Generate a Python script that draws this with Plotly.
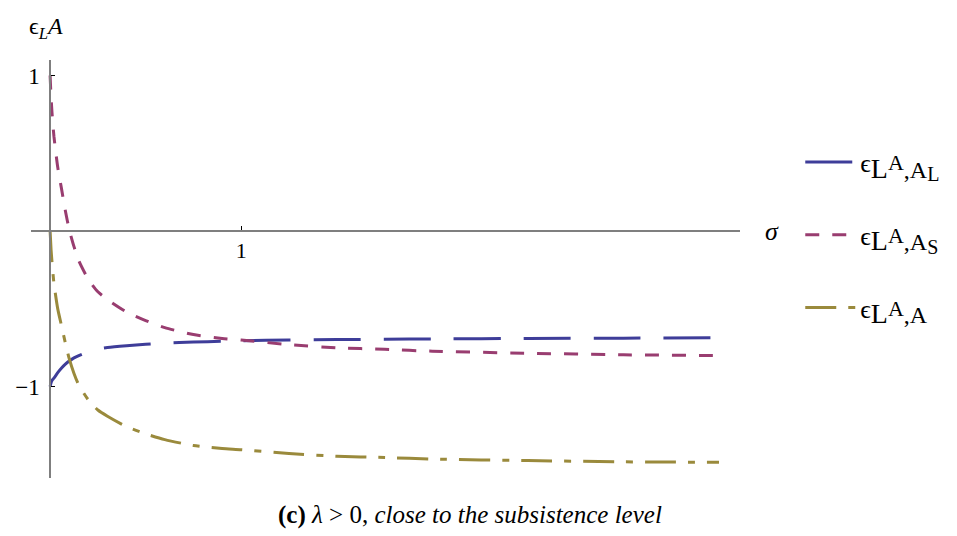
import plotly.graph_objects as go

# ---- data ----
sigma = [0, 0.005, 0.01, 0.02, 0.04, 0.06, 0.08, 0.1, 0.125, 0.15, 0.2, 0.25, 0.3,
         0.4, 0.5, 0.6, 0.75, 0.9, 1.0, 1.25, 1.5, 1.75, 2.0, 2.5, 3.0, 3.5]
eps_AL = [-1.0, -0.975, -0.96, -0.945, -0.91, -0.88, -0.855, -0.835, -0.815, -0.80,
          -0.775, -0.757, -0.748, -0.737, -0.728, -0.72, -0.713, -0.708, -0.705,
          -0.70, -0.697, -0.695, -0.693, -0.69, -0.688, -0.686]
eps_AS = [1.0, 0.86, 0.76, 0.61, 0.41, 0.27, 0.13, 0.01, -0.10, -0.19, -0.31, -0.39,
          -0.44, -0.52, -0.575, -0.62, -0.665, -0.69, -0.70, -0.73, -0.75, -0.76,
          -0.772, -0.785, -0.795, -0.80]
eps_A = [0.0, -0.12, -0.20, -0.335, -0.50, -0.61, -0.72, -0.82, -0.915, -0.99, -1.085,
         -1.15, -1.19, -1.257, -1.303, -1.34, -1.378, -1.398, -1.405, -1.43, -1.447,
         -1.455, -1.465, -1.475, -1.483, -1.486]


def eps_label(last):
    big = "<span style='font-size:28px'>L</span>"
    sup = "<sup><span style='font-size:22px'>A</span></sup>"
    tail = "<span style='font-size:24px'>,A</span>"
    if last:
        tail += "<sub><span style='font-size:20px'>" + last + "</span></sub>"
    return "ϵ<sub>" + big + sup + tail + "</sub>"


names = [eps_label("L"), eps_label("S"), eps_label("")]
x_ticks = [1]
y_ticks = [-1, 1]

X_RANGE = [-0.1, 3.61]
Y_RANGE = [-1.587, 1.10]

SERIF = "Liberation Serif"
colors = ["#3e3d99", "#993d70", "#9a8a3c"]
dashes = ["47px,23px", "14px,13px", "31px,12px,7px,12px"]

fig = go.Figure()
for ys, nm, c, d, g in zip([eps_AL, eps_AS, eps_A], names, colors, dashes, ["a", "b", "c"]):
    fig.add_trace(go.Scatter(
        x=sigma, y=ys, mode="lines", name=nm, legendgroup=g,
        line=dict(color=c, width=3, dash=d, shape="spline", smoothing=0.6),
    ))

xpos = (0 - Y_RANGE[0]) / (Y_RANGE[1] - Y_RANGE[0])
ypos = (0 - X_RANGE[0]) / (X_RANGE[1] - X_RANGE[0])

fig.update_layout(
    width=957, height=536,
    margin=dict(l=23, r=225, t=52, b=66, autoexpand=False),
    paper_bgcolor="white", plot_bgcolor="white",
    font=dict(family=SERIF, size=22, color="black"),
    xaxis=dict(range=X_RANGE, anchor="free", position=xpos, showgrid=False,
               zeroline=False, showline=True, linecolor="#7f7f7f", linewidth=1.5,
               tickvals=x_ticks, ticktext=[str(v) for v in x_ticks],
               ticks="inside", ticklen=4, tickcolor="black", tickwidth=1,
               tickfont=dict(family=SERIF, size=22)),
    yaxis=dict(range=Y_RANGE, anchor="free", position=ypos, showgrid=False,
               zeroline=False, showline=True, linecolor="#7f7f7f", linewidth=1.5,
               tickvals=y_ticks, ticktext=["−1", "1"],
               ticks="inside", ticklen=4, tickcolor="black", tickwidth=1,
               ticklabelstandoff=5,
               tickfont=dict(family=SERIF, size=23)),
    showlegend=True,
    legend=dict(x=1.085, y=0.812, xanchor="left", yanchor="top",
                font=dict(family=SERIF, size=26), tracegroupgap=36,
                itemwidth=50,
                traceorder="grouped", bgcolor="rgba(0,0,0,0)"),
)

fig.add_annotation(xref="paper", yref="paper", x=-0.005, y=1.035, xanchor="left",
                   yanchor="bottom", showarrow=False,
                   text="ϵ<sub><i>L</i></sub><i>A</i>",
                   font=dict(family=SERIF, size=24))
fig.add_annotation(xref="paper", yref="paper", x=1.032, y=xpos, xanchor="left",
                   yanchor="middle", showarrow=False, text="<i>σ</i>",
                   font=dict(family=SERIF, size=26))
fig.add_annotation(xref="paper", yref="paper", x=0.619, y=-0.088, xanchor="center",
                   yanchor="middle", showarrow=False,
                   text="<b>(c)</b> <i>λ</i> > 0, <i>close to the subsistence level</i>",
                   font=dict(family=SERIF, size=25))

fig.write_html("out.html")
